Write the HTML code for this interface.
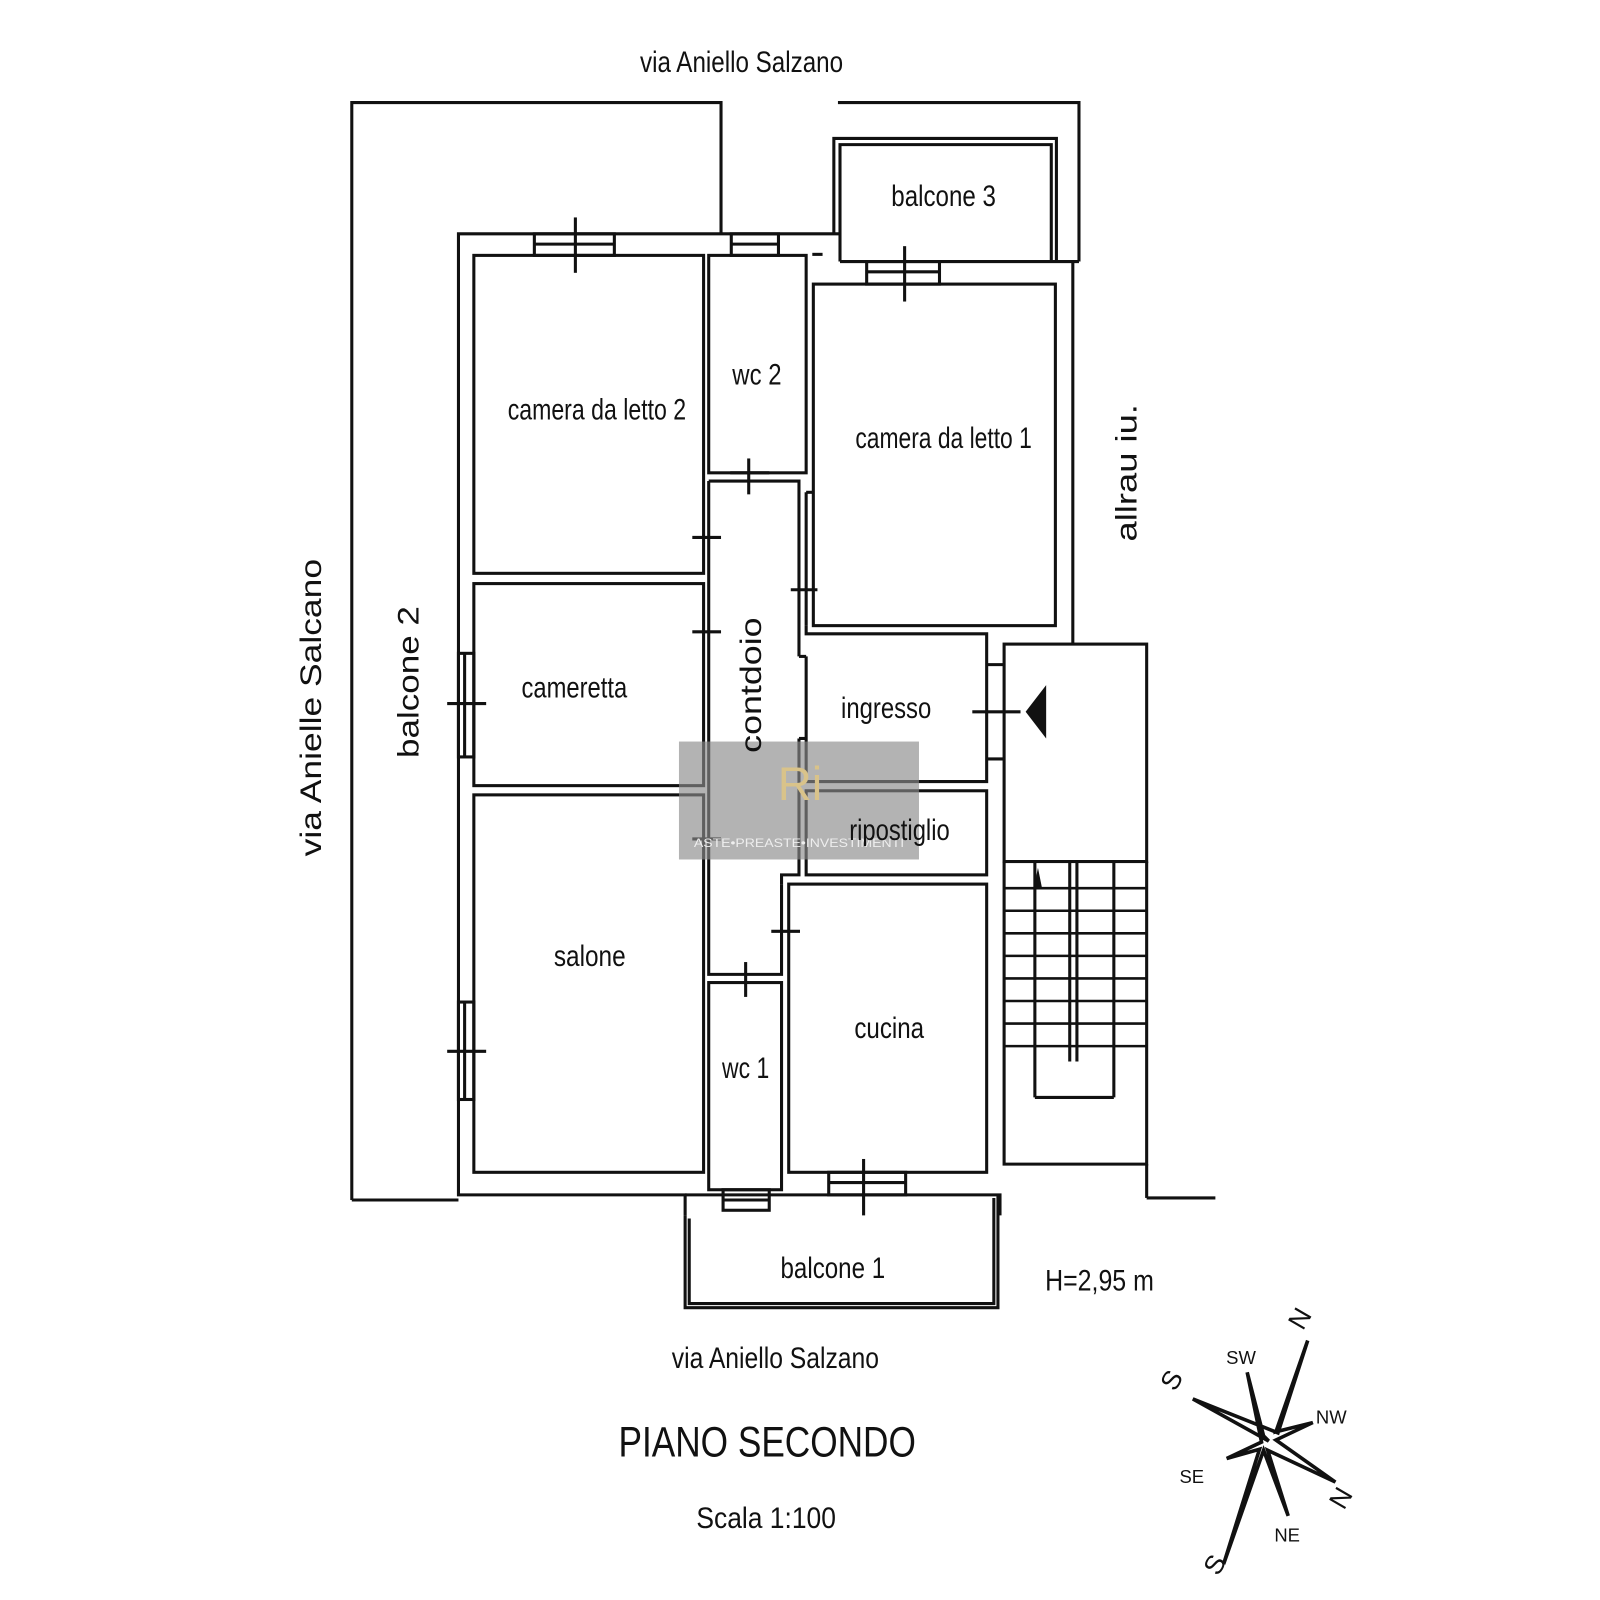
<!DOCTYPE html>
<html><head><meta charset="utf-8"><style>
html,body{margin:0;padding:0;background:#fff}
svg{display:block}
text{font-family:"Liberation Sans",sans-serif;fill:#111}
</style></head><body>
<svg width="1600" height="1600" viewBox="0 0 1560 1560" xmlns="http://www.w3.org/2000/svg">
<g fill="none" stroke="#111" stroke-width="3">
<polyline points="343,1170 343,100 703,100 703,228"/>
<polyline points="447,1170 343,1170"/>
<polyline points="817,100 1052,100 1052,255"/>
<polyline points="813,228 813,135 1030,135 1030,255"/>
<polyline points="819,255 819,141 1025,141 1025,255"/>
<line x1="819" y1="255" x2="1052" y2="255"/>
<polyline points="819,228 447,228 447,1165 668,1165 668,1185"/>
<line x1="1046" y1="255" x2="1046" y2="628"/>
<polyline points="668,1165 975,1165 975,1185"/>
<rect x="462" y="249" width="224" height="310"/>
<rect x="691" y="249" width="95" height="212"/>
<rect x="793" y="277" width="236" height="333"/>
<rect x="462" y="569" width="224" height="197"/>
<rect x="462" y="775" width="224" height="368"/>
<polyline points="691,469 779,469 779,640"/>
<polyline points="691,469 691,950 762,950 762,862"/>
<polyline points="779,720 779,853 762,853 762,862"/>
<polyline points="786,610 786,618 962,618 962,762 786,762 786,640"/>
<line x1="779" y1="640" x2="786" y2="640"/>
<line x1="786" y1="480" x2="793" y2="480"/>
<line x1="786" y1="480" x2="786" y2="610"/>
<rect x="786" y="771" width="176" height="82"/>
<line x1="779" y1="720" x2="786" y2="720"/>
<rect x="769" y="862" width="193" height="281"/>
<rect x="691" y="958" width="71" height="202"/>
<polyline points="668,1185 668,1275 973,1275 973,1165"/>
<polyline points="672,1188 672,1271 969,1271 969,1168"/>
<rect x="979" y="628" width="139" height="212"/>
<polyline points="979,840 979,1135 1118,1135 1118,840"/>
<line x1="1118" y1="1135" x2="1118" y2="1168"/><line x1="1118" y1="1168" x2="1185" y2="1168"/>
<line x1="1043" y1="840" x2="1043" y2="1035"/><line x1="1050" y1="840" x2="1050" y2="1035"/>
<line x1="1009" y1="840" x2="1009" y2="1070"/><line x1="1086" y1="840" x2="1086" y2="1070"/>
<line x1="1009" y1="1070" x2="1086" y2="1070"/>
<g stroke-width="2.5">
<line x1="979" y1="866" x2="1118" y2="866"/><line x1="979" y1="888" x2="1118" y2="888"/>
<line x1="979" y1="910" x2="1118" y2="910"/><line x1="979" y1="932" x2="1118" y2="932"/>
<line x1="979" y1="954" x2="1118" y2="954"/><line x1="979" y1="976" x2="1118" y2="976"/>
<line x1="979" y1="998" x2="1118" y2="998"/><line x1="979" y1="1020" x2="1118" y2="1020"/>
</g>
<line x1="962" y1="648" x2="979" y2="648"/><line x1="962" y1="740" x2="979" y2="740"/>
<rect x="521" y="228" width="78" height="21"/><line x1="521" y1="238" x2="599" y2="238"/><line x1="561" y1="212" x2="561" y2="266"/>
<rect x="713" y="228" width="46" height="21"/><line x1="713" y1="238" x2="759" y2="238"/>
<rect x="845" y="255" width="71" height="22"/><line x1="845" y1="265" x2="916" y2="265"/><line x1="882" y1="240" x2="882" y2="294"/>
<rect x="447" y="637" width="15" height="101"/><line x1="453" y1="637" x2="453" y2="738"/><line x1="436" y1="686" x2="474" y2="686"/>
<rect x="447" y="977" width="15" height="95"/><line x1="453" y1="977" x2="453" y2="1072"/><line x1="436" y1="1025" x2="474" y2="1025"/>
<rect x="705" y="1160" width="45" height="20"/><line x1="705" y1="1170" x2="750" y2="1170"/>
<rect x="808" y="1143" width="75" height="22"/><line x1="808" y1="1153" x2="883" y2="1153"/><line x1="842" y1="1130" x2="842" y2="1185"/>
<line x1="730" y1="447" x2="730" y2="482"/><line x1="712" y1="461" x2="750" y2="461"/>
<line x1="675" y1="524" x2="703" y2="524"/><line x1="675" y1="616" x2="703" y2="616"/>
<line x1="771" y1="575" x2="797" y2="575"/><line x1="675" y1="818" x2="703" y2="818"/>
<line x1="752" y1="908" x2="780" y2="908"/><line x1="727" y1="938" x2="727" y2="972"/>
<line x1="948" y1="694" x2="995" y2="694"/>
<line x1="792" y1="248" x2="802" y2="248"/>
</g>
<polygon points="1000,694 1020,668 1020,720" fill="#111"/>
<polygon points="1008,866 1012,846 1016,866" fill="#111"/>
<rect x="662" y="723" width="234" height="115" fill="#8a8a8a" opacity="0.65"/>
<text x="780" y="780" font-size="46" text-anchor="middle" style="fill:#d9c38a" font-family="Liberation Serif,serif">Ri</text>
<text x="779" y="826" font-size="12" text-anchor="middle" style="fill:#eee" font-family="Liberation Serif,serif" textLength="205" lengthAdjust="spacingAndGlyphs">ASTE•PREASTE•INVESTIMENTI</text>
<g font-size="29">
<text x="723" y="70" text-anchor="middle" textLength="198" lengthAdjust="spacingAndGlyphs">via Aniello Salzano</text>
<text x="920" y="201" text-anchor="middle" textLength="102" lengthAdjust="spacingAndGlyphs">balcone 3</text>
<text x="582" y="409" text-anchor="middle" textLength="174" lengthAdjust="spacingAndGlyphs">camera da letto 2</text>
<text x="738" y="375" text-anchor="middle" textLength="48" lengthAdjust="spacingAndGlyphs">wc 2</text>
<text x="920" y="437" text-anchor="middle" textLength="172" lengthAdjust="spacingAndGlyphs">camera da letto 1</text>
<text x="560" y="680" text-anchor="middle" textLength="103" lengthAdjust="spacingAndGlyphs">cameretta</text>
<text x="864" y="700" text-anchor="middle" textLength="88" lengthAdjust="spacingAndGlyphs">ingresso</text>
<text x="877" y="819" text-anchor="middle" textLength="98" lengthAdjust="spacingAndGlyphs">ripostiglio</text>
<text x="575" y="942" text-anchor="middle" textLength="70" lengthAdjust="spacingAndGlyphs">salone</text>
<text x="867" y="1012" text-anchor="middle" textLength="68" lengthAdjust="spacingAndGlyphs">cucina</text>
<text x="727" y="1051" text-anchor="middle" textLength="46" lengthAdjust="spacingAndGlyphs">wc 1</text>
<text x="812" y="1246" text-anchor="middle" textLength="102" lengthAdjust="spacingAndGlyphs">balcone 1</text>
<text x="1072" y="1258" text-anchor="middle" textLength="106" lengthAdjust="spacingAndGlyphs">H=2,95 m</text>
<text x="756" y="1334" text-anchor="middle" textLength="202" lengthAdjust="spacingAndGlyphs">via Aniello Salzano</text>
<text x="747" y="1490" text-anchor="middle" textLength="136" lengthAdjust="spacingAndGlyphs">Scala 1:100</text>
<text transform="translate(742,668) rotate(-90)" text-anchor="middle" textLength="132" lengthAdjust="spacingAndGlyphs">contdoio</text>
<text transform="translate(408,665) rotate(-90)" text-anchor="middle" textLength="148" lengthAdjust="spacingAndGlyphs">balcone 2</text>
<text transform="translate(313,690) rotate(-90)" text-anchor="middle" textLength="290" lengthAdjust="spacingAndGlyphs">via Anielle Salcano</text>
<text transform="translate(1108,461) rotate(-90)" text-anchor="middle" textLength="134" lengthAdjust="spacingAndGlyphs">allrau iu.</text>
</g>
<text x="748" y="1420" font-size="42" text-anchor="middle" textLength="290" lengthAdjust="spacingAndGlyphs">PIANO SECONDO</text>
<g stroke="#111" stroke-width="3.5" fill="#fff" stroke-linejoin="miter">
<polygon points="1237,1405 1163,1364 1246,1397 1275,1307 1244,1396 1280,1387 1244,1404 1302,1445 1236,1414 1256,1478 1232,1414 1193,1525 1228,1413 1196,1422 1230,1406 1216,1338 1232,1400"/>
</g>
<g font-size="18">
<text x="1210" y="1330" text-anchor="middle">SW</text>
<text x="1298" y="1388" text-anchor="middle">NW</text>
<text x="1162" y="1446" text-anchor="middle">SE</text>
<text x="1255" y="1503" text-anchor="middle">NE</text>
</g>
<g font-size="26">
<text transform="translate(1275,1290) rotate(-60)" text-anchor="middle">N</text>
<text transform="translate(1150,1350) rotate(-60)" text-anchor="middle">S</text>
<text transform="translate(1315,1465) rotate(-60)" text-anchor="middle">N</text>
<text transform="translate(1192,1530) rotate(-60)" text-anchor="middle">S</text>
</g>
</svg>
</body></html>
